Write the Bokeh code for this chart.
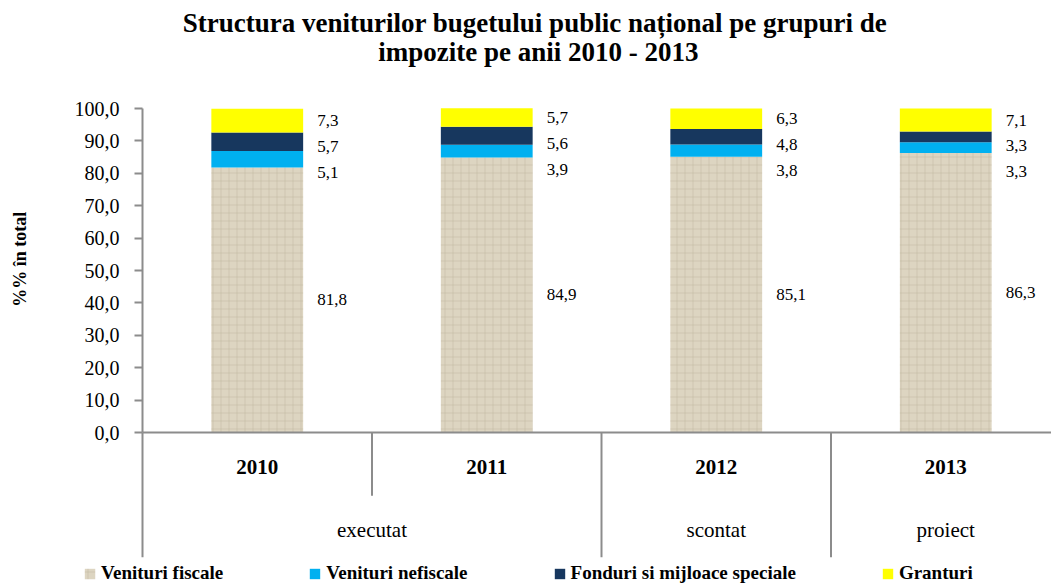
from bokeh.plotting import figure
from bokeh.models import (ColumnDataSource, Range1d,
                          Legend, LegendItem, FixedTicker)
from bokeh.core.properties import value
from bokeh.embed import file_html
from bokeh.resources import INLINE

# ---- data ----
years = ["2010", "2011", "2012", "2013"]
groups = ["executat", "executat", "scontat", "proiect"]
fiscale = [81.8, 84.9, 85.1, 86.3]
nefiscale = [5.1, 3.9, 3.8, 3.3]
fonduri = [5.7, 5.6, 4.8, 3.3]
granturi = [7.3, 5.7, 6.3, 7.1]
series_names = ["Venituri fiscale", "Venituri nefiscale",
                "Fonduri si mijloace speciale", "Granturi"]
series_colors = ["#ddd5c1", "#00b0f0", "#17375e", "#ffff00"]
y_ticks = [0, 10, 20, 30, 40, 50, 60, 70, 80, 90, 100]
title_line1 = "Structura veniturilor  bugetului public național pe grupuri de"
title_line2 = "impozite pe anii 2010 - 2013"
y_label = "%%  în total"

SERIF = "Liberation Serif"
GRAY = "#8c8c8c"

# layout constants (pixels / data units)
W, H = 1051, 584
AXIS_LEFT_PX = 142          # where the value axis sits
CAT_PX = 229.5              # width of one category in pixels
PX_PER_UNIT = 3.24
ZERO_FROM_TOP = 432
X_START = -AXIS_LEFT_PX / CAT_PX
X_END = (W - AXIS_LEFT_PX) / CAT_PX
Y_MAX = ZERO_FROM_TOP / PX_PER_UNIT
Y_MIN = -(H - ZERO_FROM_TOP) / PX_PER_UNIT
TITLE_X = 1.725


def fmt(v):
    return f"{v:.1f}".replace(".", ",")


xs = [i + 0.5 for i in range(len(years))]

p = figure(frame_width=W, frame_height=H,
           x_range=Range1d(X_START, X_END), y_range=Range1d(Y_MIN, Y_MAX),
           x_axis_location=None,
           output_backend="svg", toolbar_location=None,
           min_border_left=0, min_border_right=0,
           min_border_top=0, min_border_bottom=0)
p.outline_line_color = None
p.grid.visible = False
p.background_fill_color = "white"

# value axis, fixed at x = 0
yax = p.yaxis[0]
yax.fixed_location = 0
yax.bounds = (0, 100)
yax.ticker = FixedTicker(ticks=y_ticks)
yax.major_label_overrides = {t: fmt(t) for t in y_ticks}
yax.axis_line_color = GRAY
yax.axis_line_width = 2
yax.major_tick_line_color = GRAY
yax.major_tick_line_width = 2
yax.major_tick_out = 8
yax.major_tick_in = 0
yax.minor_tick_line_color = None
yax.major_label_standoff = 15
yax.major_label_text_font = SERIF
yax.major_label_text_font_size = "20px"
yax.major_label_text_color = "black"
yax.axis_label = "\u00a0" * 6 + y_label
yax.axis_label_text_font = SERIF
yax.axis_label_text_font_size = "18px"
yax.axis_label_text_font_style = "bold"
yax.axis_label_text_color = "black"
yax.axis_label_standoff = 42

# stacked bars
series = [fiscale, nefiscale, fonduri, granturi]
bottom = [0.0] * len(years)
renderers = []
mids_all = []
for i, (name, vals, color) in enumerate(zip(series_names, series, series_colors)):
    top = [b + v for b, v in zip(bottom, vals)]
    src = ColumnDataSource(dict(x=xs, bottom=bottom, top=top))
    kw = {}
    if i == 0:
        kw = dict(hatch_pattern="+", hatch_color="#b5aa92", hatch_alpha=0.35,
                  hatch_scale=8, hatch_weight=1)
    r = p.vbar(x="x", bottom="bottom", top="top", width=0.4, source=src,
               fill_color=color, line_color=None, **kw)
    renderers.append(r)
    mids_all.append([(b + t) / 2 for b, t in zip(bottom, top)])
    bottom = top

# value labels: start at segment middles, pushed apart from the top down
MIN_GAP = 8.0
label_y = [list(m) for m in mids_all]
for j in range(len(years)):
    prev = None
    for s in range(len(series) - 1, 0, -1):
        y = mids_all[s][j]
        if prev is not None:
            y = min(y, prev - MIN_GAP)
        label_y[s][j] = y
        prev = y
for s, vals in enumerate(series):
    src = ColumnDataSource(dict(x=xs, y=label_y[s], label=[fmt(v) for v in vals]))
    p.text(x="x", y="y", text="label", source=src, x_offset=60,
           text_align="left", text_baseline="middle",
           text_font=value(SERIF), text_font_size="17px", text_color="black")

# category axis drawn inside the frame (below zero)
p.segment(x0=[0], y0=[0], x1=[X_END], y1=[0], line_color=GRAY, line_width=2)
bx, by = [], []
for i in range(len(years)):
    bx.append(i)
    by.append(-19.5 if (i > 0 and groups[i] == groups[i - 1]) else -38.5)
p.segment(x0=bx, y0=[0] * len(bx), x1=bx, y1=by, line_color=GRAY, line_width=2)

p.text(x=xs, y=[-10.5] * len(years), text=years, text_align="center",
       text_baseline="middle", text_font=value(SERIF), text_font_size="21px",
       text_font_style="bold", text_color="black")

g_names, g_centers = [], []
for i, g in enumerate(groups):
    if g not in g_names:
        g_names.append(g)
        idx = [j for j, gg in enumerate(groups) if gg == g]
        g_centers.append(sum(xs[j] for j in idx) / len(idx))
p.text(x=g_centers, y=[-30.2] * len(g_names), text=g_names, text_align="center",
       text_baseline="middle", text_font=value(SERIF), text_font_size="21px",
       text_color="black")

# title (two lines)
p.text(x=[TITLE_X, TITLE_X], y=[126.5, 117.3], text=[title_line1, title_line2],
       text_align="center", text_baseline="middle", text_font=value(SERIF),
       text_font_size="27px", text_font_style="bold", text_color="black")

# legend
legend = Legend(items=[LegendItem(label=n, renderers=[r])
                       for n, r in zip(series_names, renderers)],
                orientation="horizontal", location=(83, 0),
                label_text_font=SERIF, label_text_font_style="bold",
                label_text_font_size="19px", label_text_color="black",
                glyph_width=13, glyph_height=13, label_standoff=5,
                label_height=18,
                spacing=85, padding=0, margin=0,
                border_line_color=None, background_fill_alpha=0)
p.add_layout(legend, "center")

open("out.html", "w").write(file_html(p, INLINE))
